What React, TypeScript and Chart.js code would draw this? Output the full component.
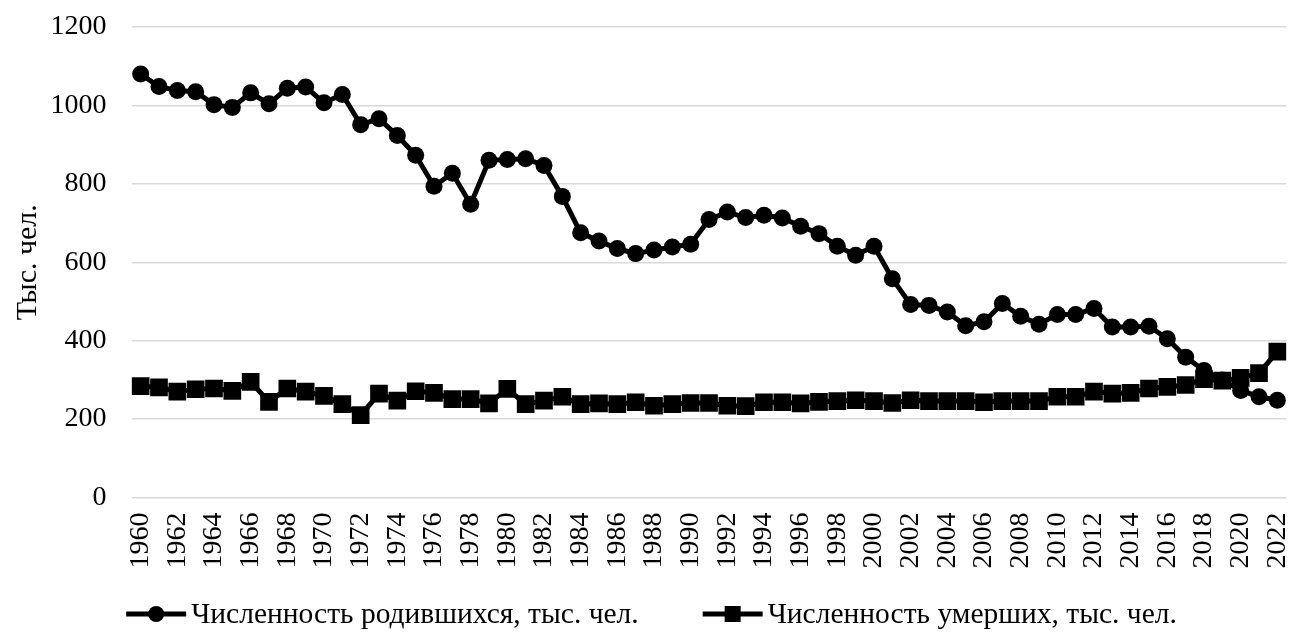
import React, { useEffect, useRef } from 'react';
import { Chart, registerables } from 'chart.js';

Chart.register(...registerables);

const years = [
  1960, 1961, 1962, 1963, 1964, 1965, 1966, 1967, 1968, 1969,
  1970, 1971, 1972, 1973, 1974, 1975, 1976, 1977, 1978, 1979,
  1980, 1981, 1982, 1983, 1984, 1985, 1986, 1987, 1988, 1989,
  1990, 1991, 1992, 1993, 1994, 1995, 1996, 1997, 1998, 1999,
  2000, 2001, 2002, 2003, 2004, 2005, 2006, 2007, 2008, 2009,
  2010, 2011, 2012, 2013, 2014, 2015, 2016, 2017, 2018, 2019,
  2020, 2021, 2022,
];

const births = [
  1080, 1048, 1038, 1035, 1002, 995, 1032, 1004, 1044, 1047,
  1007, 1028, 951, 966, 923, 873, 794, 827, 748, 860,
  862, 864, 847, 768, 675, 654, 635, 622, 631, 639,
  646, 709, 728, 714, 720, 713, 692, 673, 641, 618,
  641, 558, 492, 490, 473, 438, 448, 495, 462, 442,
  467, 467, 482, 435, 435, 437, 405, 358, 324, 300,
  273, 257, 248,
];

const deaths = [
  284, 281, 270, 276, 278, 272, 295, 244, 278, 270,
  259, 238, 210, 265, 247, 271, 267, 251, 251, 240,
  277, 238, 247, 257, 238, 240, 238, 243, 234, 238,
  241, 241, 234, 233, 243, 243, 240, 244, 246, 248,
  246, 241, 248, 246, 246, 246, 243, 246, 246, 246,
  257, 257, 270, 265, 267, 278, 282, 287, 302, 298,
  305, 317, 372,
];

const seriesNames = [
  'Численность родившихся, тыс. чел.',
  'Численность умерших, тыс. чел.',
];
const yTitle = 'Тыс. чел.';
const yMin = 0;
const yMax = 1200;
const yStep = 200;

const FONT = '"Liberation Serif", "Times New Roman", serif';
const FS = 28;
const LEGEND_FS = 29.5;
const TITLE_FS = 30;

const legendPlugin = {
  id: 'lineMarkerLegend',
  afterDraw(chart: any) {
    const ctx = chart.ctx as CanvasRenderingContext2D;
    ctx.save();
    ctx.font = `${LEGEND_FS}px ${FONT}`;
    const symW = 60;
    const gapText = 5;
    const gapItems = 64;
    const w1 = ctx.measureText(seriesNames[0]).width;
    const w2 = ctx.measureText(seriesNames[1]).width;
    const total = symW + gapText + w1 + gapItems + symW + gapText + w2;
    let x = (chart.width - total) / 2 + 2;
    const y = 614;
    const styles = ['circle', 'rect'];
    const widths = [w1, w2];
    for (let i = 0; i < 2; i++) {
      ctx.strokeStyle = '#000';
      ctx.fillStyle = '#000';
      ctx.lineWidth = 5;
      ctx.beginPath();
      ctx.moveTo(x, y);
      ctx.lineTo(x + symW, y);
      ctx.stroke();
      const cx = x + symW / 2;
      ctx.beginPath();
      if (styles[i] === 'circle') {
        ctx.arc(cx, y, 8, 0, Math.PI * 2);
      } else {
        ctx.rect(cx - 8, y - 8, 16, 16);
      }
      ctx.fill();
      ctx.textAlign = 'left';
      ctx.textBaseline = 'middle';
      ctx.fillText(seriesNames[i], x + symW + gapText, y + 1);
      x += symW + gapText + widths[i] + gapItems;
    }
    ctx.restore();
  },
};

export default function App() {
  const canvasRef = useRef<HTMLCanvasElement | null>(null);

  useEffect(() => {
    document.body.style.margin = '0';
    const canvas = canvasRef.current;
    if (!canvas) return;
    Chart.defaults.font.family = FONT;
    Chart.defaults.color = '#000';

    const chart = new Chart(canvas, {
      type: 'line',
      data: {
        labels: years.map(String),
        datasets: [
          {
            label: seriesNames[0],
            data: births,
            borderColor: '#000',
            backgroundColor: '#000',
            borderWidth: 5,
            tension: 0,
            pointStyle: 'circle',
            pointRadius: 8.5,
            pointBackgroundColor: '#000',
            pointBorderColor: '#000',
            pointBorderWidth: 0,
          },
          {
            label: seriesNames[1],
            data: deaths,
            borderColor: '#000',
            backgroundColor: '#000',
            borderWidth: 5,
            tension: 0,
            pointStyle: 'rect',
            pointRadius: 12.5,
            pointBackgroundColor: '#000',
            pointBorderColor: '#000',
            pointBorderWidth: 0,
          },
        ],
      },
      options: {
        animation: false,
        responsive: false,
        maintainAspectRatio: false,
        layout: { padding: { left: 0, right: 3, top: 27, bottom: 55.5 } },
        plugins: {
          legend: { display: false },
          tooltip: { enabled: false },
        },
        scales: {
          x: {
            offset: true,
            grid: { display: false, drawTicks: false },
            border: { display: false },
            ticks: {
              autoSkip: false,
              maxRotation: 90,
              minRotation: 90,
              padding: 15,
              color: '#000',
              font: { size: FS, family: FONT },
              callback: (_v: any, i: number) => (i % 2 === 0 ? String(years[i]) : ''),
            },
            afterFit: (s: any) => {
              s.height = 80;
              s.paddingLeft = 0;
              s.paddingRight = 0;
            },
          },
          y: {
            min: yMin,
            max: yMax,
            grid: { color: '#d9d9d9', lineWidth: 1.5, drawTicks: false },
            border: { display: false },
            ticks: {
              stepSize: yStep,
              padding: 25,
              color: '#000',
              font: { size: FS, family: FONT },
              callback: (v: any) => String(v),
            },
            title: {
              display: true,
              text: yTitle,
              color: '#000',
              font: { size: TITLE_FS, family: FONT },
              padding: { top: 10, bottom: 0 },
            },
            afterFit: (s: any) => {
              s.width = 131.5;
              s.paddingTop = 0;
              s.paddingBottom = 0;
            },
          },
        },
      },
      plugins: [legendPlugin],
    });
    return () => chart.destroy();
  }, []);

  return (
    <div style={{ width: 1299, height: 633 }}>
      <canvas ref={canvasRef} width={1299} height={633} style={{ display: 'block' }} />
    </div>
  );
}
